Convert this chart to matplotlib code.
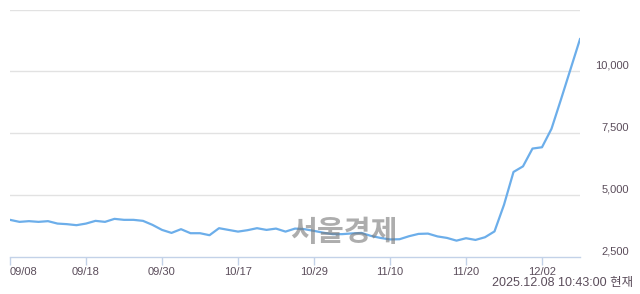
import matplotlib.pyplot as plt
from matplotlib.transforms import blended_transform_factory

# daily closing prices 09/08 ~ 12/08
prices = [3984, 3902, 3931, 3902, 3931, 3833, 3809, 3768, 3833, 3943,
          3902, 4024, 3984, 3984, 3943, 3780, 3577, 3455, 3606, 3443,
          3443, 3362, 3646, 3577, 3508, 3565, 3646, 3577, 3630, 3508,
          3630, 3606, 3537, 3463, 3402, 3406, 3435, 3455, 3333, 3252,
          3191, 3199, 3321, 3415, 3427, 3313, 3252, 3142, 3240, 3171,
          3280, 3516, 4594, 5923, 6150, 6870, 6923, 7671, 8862, 10081,
          11301]
tick_idx = [0, 8, 16, 24, 32, 40, 48, 56]
tick_labels = ["09/08", "09/18", "09/30", "10/17", "10/29", "11/10", "11/20", "12/02"]
y_grid = [5000, 7500, 10000, 12500]
y_labels = {2500: "2,500", 5000: "5,000", 7500: "7,500", 10000: "10,000"}

text_color = "#5b4d5b"
font = ["Liberation Sans", "Noto Sans CJK KR"]
fig = plt.figure(figsize=(6.4, 2.94), dpi=100)
ax = fig.add_axes([10 / 640, 37.5 / 294, 570 / 640, 247 / 294])

ax.plot(range(len(prices)), prices, color="#6caeea", linewidth=1.6, zorder=3)

ax.set_xlim(0, len(prices) - 1)
ax.set_ylim(2500, 12500)
for v in y_grid:
    ax.axhline(v, color="#e2e2e2", linewidth=1, zorder=1)

for s in ["top", "left", "right"]:
    ax.spines[s].set_visible(False)
ax.spines["bottom"].set_color("#c3d2e8")
ax.spines["bottom"].set_linewidth(1)

ax.set_yticks([])
ax.set_xticks(tick_idx)
ax.set_xticklabels(tick_labels, fontsize=8, color=text_color, family=font)
ax.tick_params(axis="x", length=6, width=1, color="#c3d2e8", pad=1.5)
ax.get_xticklabels()[0].set_ha("left")

tr = blended_transform_factory(ax.transAxes, ax.transData)
for v, lab in y_labels.items():
    ax.annotate(lab, xy=(1, v), xycoords=tr, xytext=(35.5, 3.8),
                textcoords="offset points", ha="right", va="center",
                fontsize=8, color=text_color, family=font, annotation_clip=False)

# watermark
ax.text(0.586, 0.099, "서울경제", transform=ax.transAxes, ha="center", va="center",
        fontsize=21, fontweight="bold", color="#777777", alpha=0.6,
        family=["Noto Sans CJK KR", "DejaVu Sans"], zorder=4)

fig.text(633 / 640, 1 - 283 / 294, "2025.12.08 10:43:00 현재", ha="right", va="center",
         fontsize=9, color=text_color, family=font)

plt.savefig("out.png", dpi=100)
